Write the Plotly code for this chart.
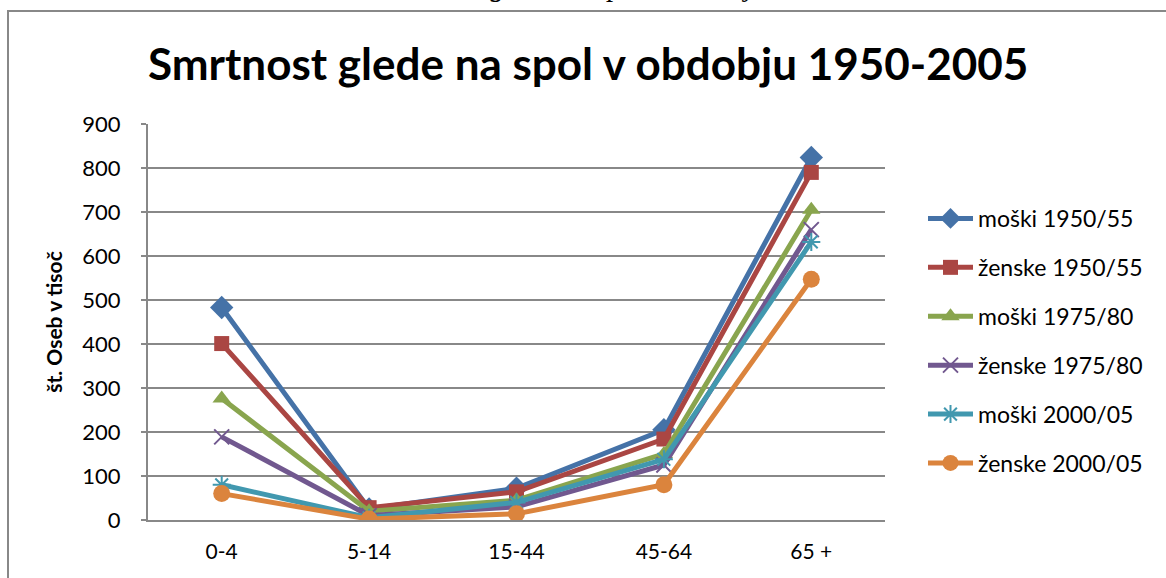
import plotly.graph_objects as go

categories = ["0-4", "5-14", "15-44", "45-64", "65 +"]
moski_1950 = [483, 25, 72, 205, 824]
zenske_1950 = [401, 28, 64, 184, 790]
moski_1975 = [276, 20, 45, 150, 705]
zenske_1975 = [189, 10, 30, 125, 660]
moski_2000 = [80, 5, 40, 138, 632]
zenske_2000 = [60, 2, 14, 80, 547]
y_ticks = [0, 100, 200, 300, 400, 500, 600, 700, 800, 900]

series = [
    ("moški 1950/55", moski_1950, "#4572A7", "diamond", 18, 0),
    ("ženske 1950/55", zenske_1950, "#AA4643", "square", 15, 0),
    ("moški 1975/80", moski_1975, "#89A54E", "triangle-up", 16, 0),
    ("ženske 1975/80", zenske_1975, "#71588F", "x-thin-open", 15, 2),
    ("moški 2000/05", moski_2000, "#4198AF", "asterisk-open", 15, 2),
    ("ženske 2000/05", zenske_2000, "#DB843D", "circle", 17, 0),
]

FONT = "Lato, Carlito, Calibri, sans-serif"

# plot area in page pixels: x 148..885, y 124..520
L, R, T, B = 148, 885, 124, 520
PW, PH = R - L, B - T


def px(xp):
    return (xp - L) / PW


def py(yp):
    return (B - yp) / PH


fig = go.Figure()
for i, (name, vals, color, sym, size, lw) in enumerate(series):
    marker = dict(symbol=sym, size=size, color=color)
    if lw:
        marker["line"] = dict(color=color, width=lw)
    fig.add_trace(go.Scatter(
        x=categories, y=vals, name=name, mode="lines+markers",
        line=dict(color=color, width=5), marker=marker,
        legendgroup=f"g{i}",
    ))

fig.update_layout(
    width=1166, height=578,
    margin=dict(l=L, r=1166 - R, t=T, b=578 - B),
    paper_bgcolor="white", plot_bgcolor="white",
    font=dict(family=FONT, color="black", size=21),
    showlegend=True,
    legend=dict(x=px(923), y=py(197), xanchor="left", yanchor="top",
                font=dict(size=23, family=FONT), tracegroupgap=16,
                itemwidth=45, bgcolor="rgba(0,0,0,0)"),
    xaxis=dict(type="category", showline=True, linecolor="#888888", linewidth=2,
               showgrid=False, ticks="", tickfont=dict(size=21),
               ticklabelstandoff=12, range=[-0.5, 4.5]),
    yaxis=dict(range=[0, 900], tickvals=y_ticks, showline=True, linecolor="#888888",
               linewidth=2, showgrid=True, gridcolor="#888888", gridwidth=2,
               ticks="outside", ticklen=5, tickcolor="#888888", tickwidth=2,
               tickfont=dict(size=22), ticklabelstandoff=16, zeroline=False,
               title=dict(text="<b>št. Oseb v tisoč</b>", font=dict(size=21), standoff=14)),
    annotations=[
        dict(text="<b>Smrtnost glede na spol v obdobju 1950-2005</b>",
             xref="paper", yref="paper", x=px(588), y=py(63),
             xanchor="center", yanchor="middle", showarrow=False,
             font=dict(size=44, family=FONT)),
        dict(text="<i>Smrtnost glede na spol v obdobju 1950-2005</i>",
             xref="paper", yref="paper", x=px(378), y=py(4),
             xanchor="left", yanchor="bottom", showarrow=False,
             font=dict(size=29, family="Liberation Serif, serif")),
    ],
    shapes=[
        dict(type="rect", xref="paper", yref="paper",
             x0=px(8), x1=px(1190), y0=py(600), y1=py(11),
             line=dict(color="#888888", width=2), fillcolor="rgba(0,0,0,0)", layer="below"),
    ],
)

fig.write_html("out.html", config={"displayModeBar": False},
               post_script="document.body.style.margin='0';document.body.style.overflow='hidden';")
